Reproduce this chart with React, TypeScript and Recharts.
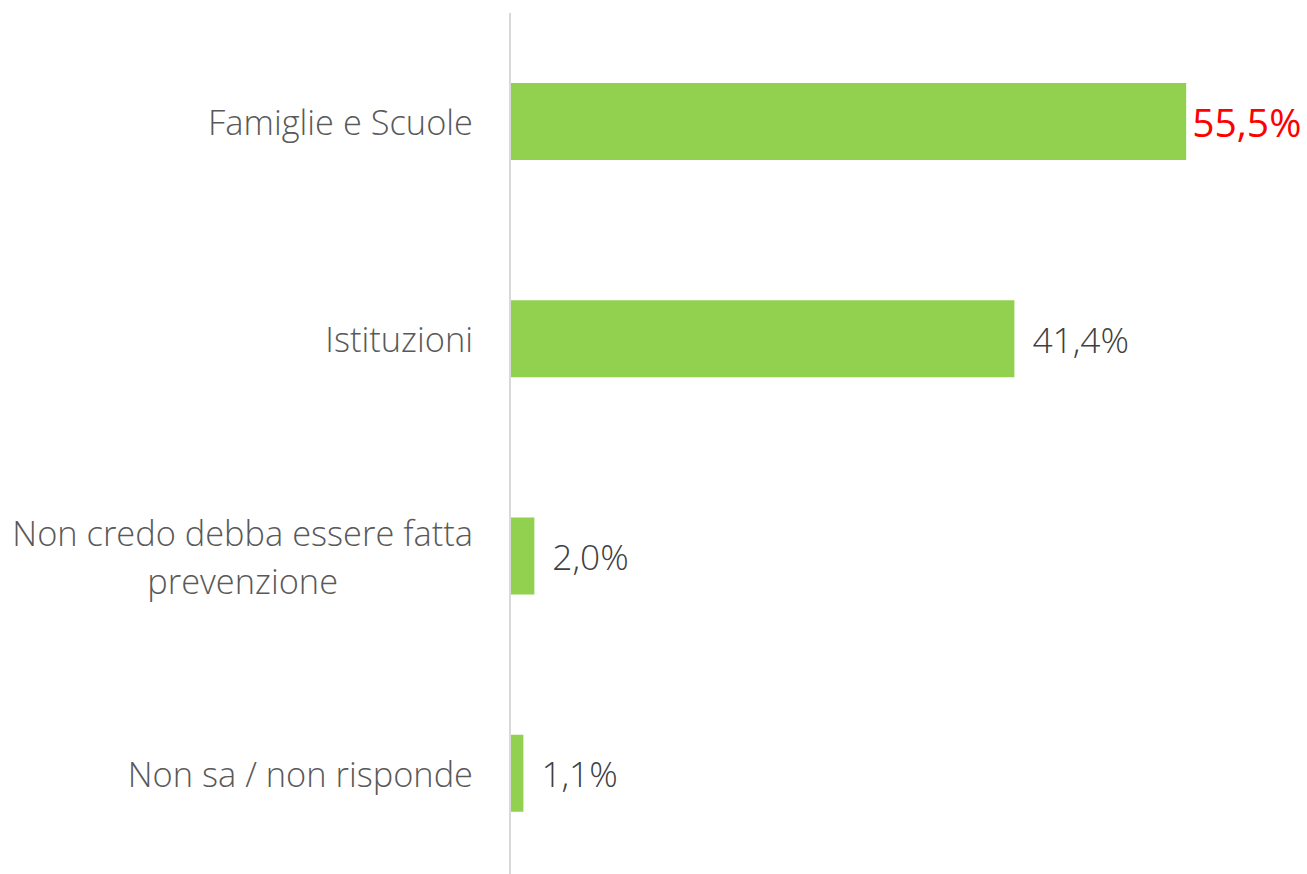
import React from 'react';
import { BarChart, Bar, XAxis, YAxis, LabelList } from 'recharts';

const categories = ['Famiglie e Scuole', 'Istituzioni', 'Non credo debba essere fatta prevenzione', 'Non sa / non risponde'];
const categoryLines = [['Famiglie e Scuole'], ['Istituzioni'], ['Non credo debba essere fatta', 'prevenzione'], ['Non sa / non risponde']];
const values = [55.5, 41.4, 2.0, 1.1];
const highlighted = [true, false, false, false];

const data = categories.map((name, i) => ({ name, value: values[i], lines: categoryLines[i], hi: highlighted[i] }));

const FONT = '"Open Sans", "Noto Sans", sans-serif';
const LABEL_SIZE = 34.4;

function measure(text: string, size: number) {
    const c = document.createElement('canvas').getContext('2d');
    if (!c) return text.length * size * 0.5;
    c.font = `300 ${size}px "Open Sans"`;
    return c.measureText(text).width;
}

// category label, block right aligned, lines centred on each other
const CategoryTick = (props: any) => {
    const { x, y, payload } = props;
    const lines: string[] = categoryLines[categories.indexOf(payload.value)] || [payload.value];
    const right = x - 37;
    const widest = Math.max(...lines.map(l => measure(l, LABEL_SIZE)));
    const lh = 48;
    const start = y - ((lines.length - 1) * lh) / 2;
    return (
        <g>
            {lines.map((l, i) => (
                <text
                    key={i}
                    x={lines.length > 1 ? right - widest / 2 : right}
                    y={start + i * lh}
                    textAnchor={lines.length > 1 ? 'middle' : 'end'}
                    dominantBaseline="central"
                    fontFamily={FONT}
                    fontWeight={300}
                    fontSize={LABEL_SIZE}
                    fill="#595959"
                >
                    {l}
                </text>
            ))}
        </g>
    );
};

const ValueLabel = (props: any) => {
    const { x, y, width, height, value, index } = props;
    const hi = highlighted[index];
    return (
        <text
            x={x + width + (hi ? 6 : 18)}
            y={y + height / 2}
            dominantBaseline="central"
            fontFamily={FONT}
            fontWeight={hi ? 400 : 300}
            fontSize={hi ? 39 : 35.3}
            fill={hi ? '#ff0000' : '#404040'}
        >
            {value.toFixed(1).replace('.', ',')}%
        </text>
    );
};

export default function App() {
    return (
        <div style={{ position: 'absolute', top: 0, left: 0, width: 1307, height: 874, overflow: 'hidden', background: '#fff' }}>
            <BarChart
                width={1307}
                height={882}
                data={data}
                layout="vertical"
                margin={{ top: 13, right: 66, bottom: 0, left: 0 }}
            >
                <XAxis type="number" domain={[0, 60]} hide />
                <YAxis
                    type="category"
                    dataKey="name"
                    width={510}
                    tick={<CategoryTick />}
                    tickLine={false}
                    tickSize={0}
                    tickMargin={0}
                    axisLine={{ stroke: '#d9d9d9', strokeWidth: 2 }}
                    interval={0}
                />
                <Bar dataKey="value" fill="#92d050" barSize={77} isAnimationActive={false}>
                    <LabelList dataKey="value" content={<ValueLabel />} />
                </Bar>
            </BarChart>
        </div>
    );
}
